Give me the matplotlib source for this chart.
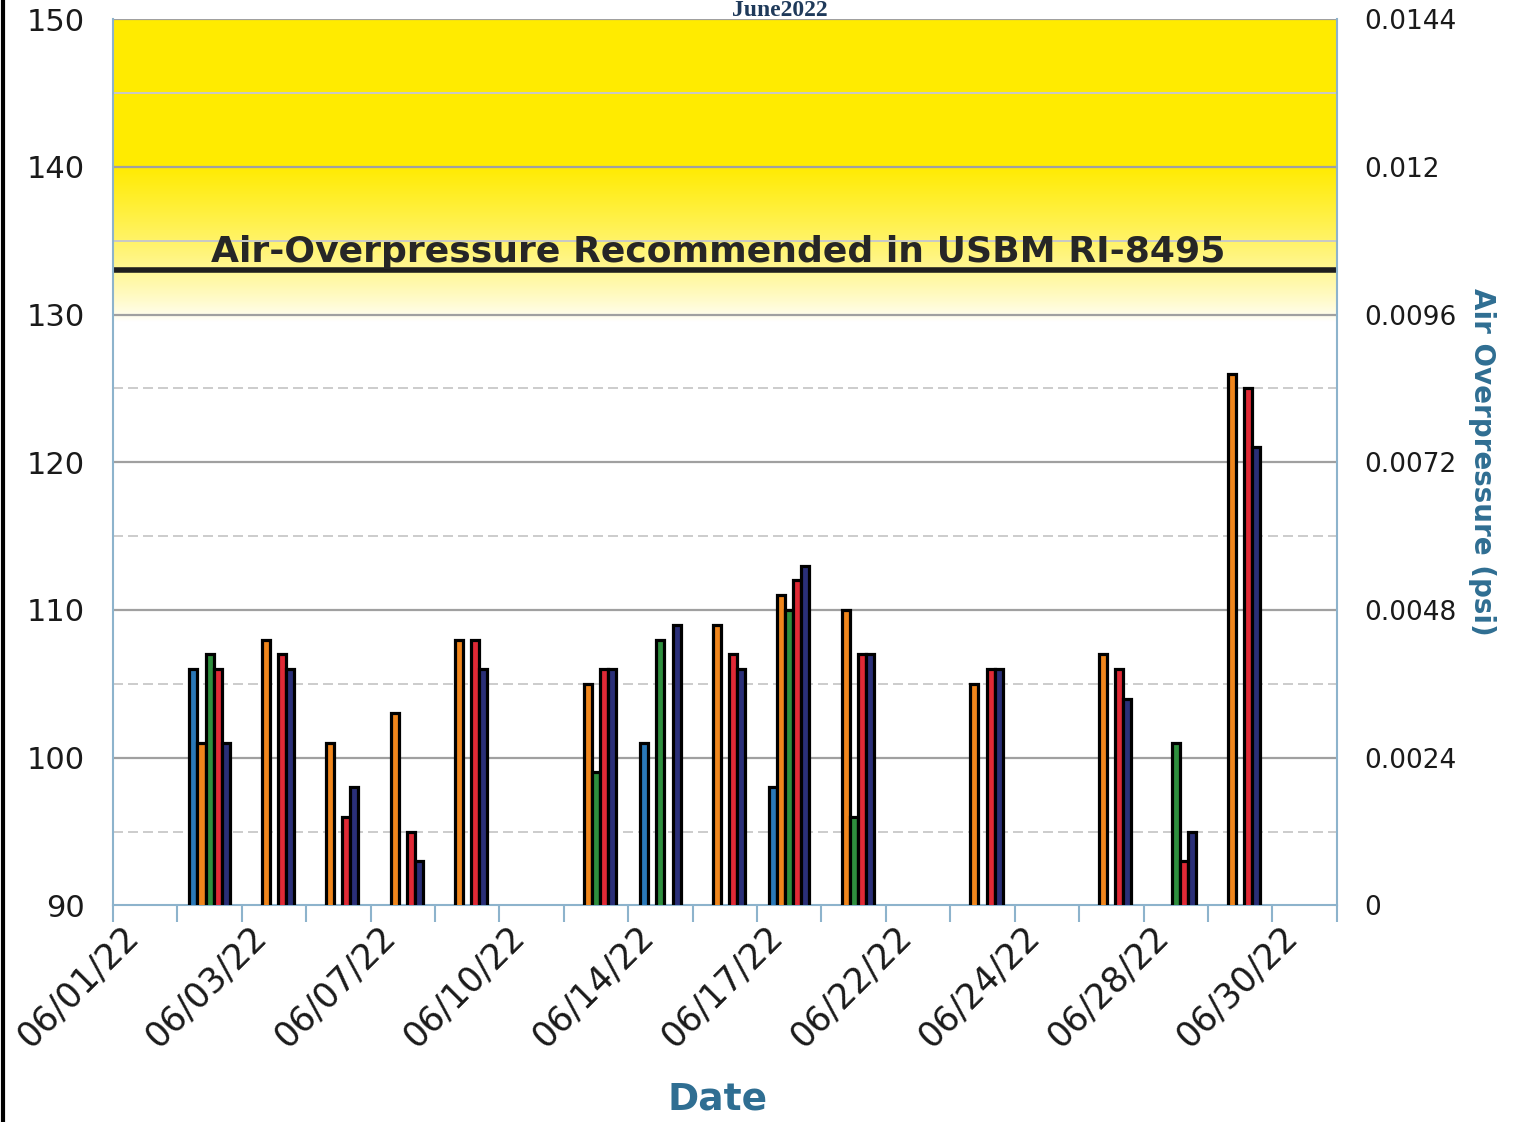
import numpy as np
import matplotlib
matplotlib.use("Agg")
import matplotlib.pyplot as plt
from matplotlib.lines import Line2D
from matplotlib.ticker import FixedLocator, FuncFormatter
from matplotlib.transforms import ScaledTranslation

nan = np.nan
# 19 categories (dates); only every other one is labelled on the axis
dates = ["06/01/22", "06/02/22", "06/03/22", "06/06/22", "06/07/22", "06/08/22",
         "06/10/22", "06/13/22", "06/14/22", "06/16/22", "06/17/22", "06/21/22",
         "06/22/22", "06/23/22", "06/24/22", "06/27/22", "06/28/22", "06/29/22",
         "06/30/22"]
series_names = ["Seis 1", "Seis 2", "Seis 3", "Seis 4", "Seis 5"]
series_colors = ["#2a78b8", "#f0861c", "#2e8f3e", "#e02a36", "#2a2f78"]

blue   = [nan, 106, nan, nan, nan, nan, nan, nan, 101, nan,  98, nan, nan, nan, nan, nan, nan, nan, nan]
orange = [nan, 101, 108, 101, 103, 108, nan, 105, nan, 109, 111, 110, nan, 105, nan, 107, nan, 126, nan]
green  = [nan, 107, nan, nan, nan, nan, nan,  99, 108, nan, 110,  96, nan, nan, nan, nan, 101, nan, nan]
red    = [nan, 106, 107,  96,  95, 108, nan, 106, nan, 107, 112, 107, nan, 106, nan, 106,  93, 125, nan]
navy   = [nan, 101, 106,  98,  93, 106, nan, 106, 109, 106, 113, 107, nan, 106, nan, 104,  95, 121, nan]
series_values = [blue, orange, green, red, navy]

limit_db = 133
limit_text = "Air-Overpressure Recommended in USBM RI-8495"
left_ticks = [90, 100, 110, 120, 130, 140, 150]
right_ticks = [0, 0.0024, 0.0048, 0.0072, 0.0096, 0.012, 0.0144]

fig = plt.figure(figsize=(15.26, 11.22), dpi=100)
ax = fig.add_axes([0.074, 0.193, 0.802, 0.790])

n = len(dates)
x = np.arange(n)
bw = 0.125
for i, (vals, col) in enumerate(zip(series_values, series_colors)):
    ax.bar(x + (i - 2) * bw, vals, width=bw, color=col, edgecolor="black",
           linewidth=2.3, zorder=3, label=series_names[i])

ax.set_xlim(-0.5, n - 0.5)
ax.set_ylim(90, 150)

# yellow gradient background
ys = np.linspace(150, 127, 400)
alpha = np.clip((ys - 129.5) / 10.5, 0, 1) ** 0.8
img = np.zeros((len(ys), 2, 4))
img[..., 0] = 1.0
img[..., 1] = 0.925
img[..., 2] = 0.0
img[..., 3] = alpha[:, None]
ax.imshow(img, extent=[-0.5, n - 0.5, 127, 150], aspect="auto", zorder=0,
          interpolation="bilinear")

# grid
for v in range(95, 130, 10):
    ax.axhline(v, color="#c4c4c4", lw=1.2, ls=(0, (6, 3)), zorder=1)
for v in (135, 145):
    ax.axhline(v, color="#c8c8c8", lw=1.4, zorder=1)
for v in range(100, 151, 10):
    ax.axhline(v, color="#a0a0a0", lw=1.6, zorder=1)

ax.axhline(limit_db, color="#1e1e1e", lw=4, zorder=2)
ax.text((n - 1) / 2 - 0.1, limit_db + 0.55, limit_text, ha="center", va="baseline",
        fontsize=26, fontweight="bold", color="#262626", zorder=4)

# axes styling
for s in ["left", "bottom", "right"]:
    ax.spines[s].set_color("#8db3cc")
    ax.spines[s].set_linewidth(1.5)
ax.spines["top"].set_visible(False)

ax.set_yticks(left_ticks)
ax.set_yticklabels([str(t) for t in left_ticks], fontsize=22, color="#1a1a1a")
ax.tick_params(axis="y", length=0, pad=20)

ax.xaxis.set_major_locator(FixedLocator(np.arange(-0.5, n, 1.0)))
ax.xaxis.set_major_formatter(FuncFormatter(lambda v, p: ""))
ax.tick_params(axis="x", which="major", length=12, width=1.5, color="#8db3cc")
ax.set_xticks(x[::2], minor=True)
ax.set_xticklabels([dates[i] for i in x[::2]], minor=True, rotation=45,
                   ha="right", va="top", rotation_mode="anchor", fontsize=25,
                   color="#1a1a1a")
ax.tick_params(axis="x", which="minor", length=0, pad=10)
shift = ScaledTranslation(-0.24, 0, fig.dpi_scale_trans)
for lab in ax.get_xticklabels(minor=True):
    lab.set_transform(lab.get_transform() + shift)

fig.text(718 / 1526, 1 - 1100 / 1122, "Date", ha="center", va="center",
         fontsize=27, fontweight="bold", color="#2f6e92")

ax2 = ax.twinx()
ax2.set_ylim(0, 0.0144)
ax2.set_yticks(right_ticks)
ax2.yaxis.set_major_formatter(FuncFormatter(lambda v, p: "%g" % round(v, 5)))
ax2.tick_params(axis="y", length=0, pad=20, labelsize=19, labelcolor="#1a1a1a")
for s in ["left", "bottom", "right", "top"]:
    ax2.spines[s].set_visible(False)
ax2.set_ylabel("Air Overpressure (psi)", rotation=270, fontsize=20,
               fontweight="bold", color="#2f6e92", labelpad=28)

fig.text(780 / 1526, 1 - 11 / 1122, "June2022", ha="center", va="center",
         fontsize=17, fontweight="bold", family="Liberation Serif", color="#1f3a5a")

# scan border line at left edge
fig.add_artist(Line2D([0.002, 0.002], [0, 1], transform=fig.transFigure,
                      color="black", lw=3))

fig.savefig("out.png", dpi=100)
